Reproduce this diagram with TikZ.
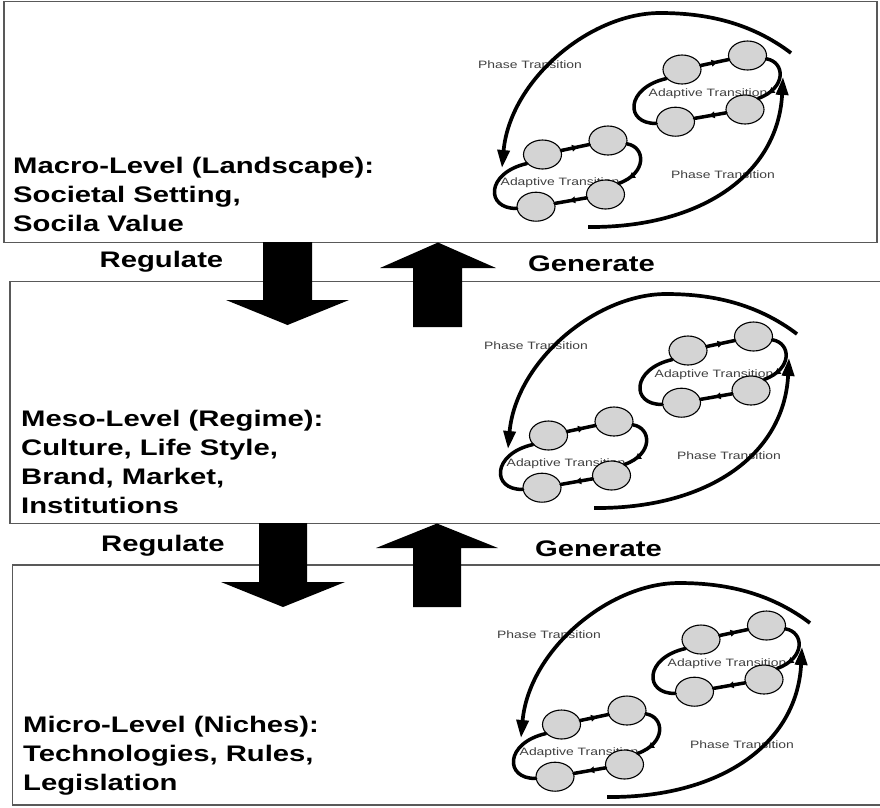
\documentclass[tikz,border=0pt]{standalone}
\usepackage{fontspec}
\setmainfont{Liberation Sans}[FakeStretch=1.3]
\usetikzlibrary{arrows.meta,decorations.markings,shapes.geometric}

\tikzset{
  levelbox/.style={draw=black!65, line width=1.5pt, inner sep=0pt},
  leveltext/.style={font=\fontsize{22.5}{29}\selectfont\bfseries, anchor=base west, inner sep=0pt},
  flowlabel/.style={font=\fontsize{22.5}{27}\selectfont\bfseries, anchor=base, inner sep=0pt},
  blockarrow/.style={fill=black},
  state/.style={ellipse, draw=black, fill=black!17, line width=1.1pt,
    minimum width=38pt, minimum height=29pt, inner sep=0pt},
  translabel/.style={font=\fontsize{10.7}{12}\selectfont, text=black!75, anchor=base, inner sep=0pt},
  loopline/.style={line width=3.5pt, line cap=round},
  phasearc/.style={line width=3.7pt, -{Triangle[length=18pt,width=12pt]}},
  midarrow/.style={postaction={decorate}, decoration={markings,
    mark=at position #1 with {\arrow{Triangle[length=6pt,width=6.5pt]}}}},
}

% four states joined in a closed adaptive loop
\newcommand{\adaptloop}[2]{%
  \begin{scope}[shift={#2}]
    \node[state] (#1a) at (682,69.5) {};
    \node[state] (#1b) at (747.5,55.5) {};
    \node[state] (#1c) at (745,109.5) {};
    \node[state] (#1d) at (675.5,121.7) {};
    \draw[loopline, midarrow=.6] (#1a) -- (#1b);
    \draw[loopline, midarrow=.8] (#1b.-10) .. controls (785,62) and (787,88) .. (#1c.40);
    \draw[loopline, midarrow=.55] (#1c) -- (#1d);
    \draw[loopline] (#1d.185) .. controls (625,124) and (625,88) .. (#1a.210);
  \end{scope}}

% two adaptive loops inside a broken phase-transition ellipse
\newcommand{\transcycle}[2]{%
  \begin{scope}[shift={#2}]
    \node[translabel] (#1pa) at (530,68) {Phase Transition};
    \node[translabel] (#1pb) at (723,178.5) {Phase Transition};
    \node[translabel] (#1ta) at (708,96.7) {Adaptive Transition};
    \node[translabel] (#1tb) at (560,185) {Adaptive Transition};
    \adaptloop{#1u}{(0,0)}
    \adaptloop{#1l}{(-139.5,85)}
    \draw[phasearc] (791,53) .. controls (750,22) and (705,13) .. (660,13)
      .. controls (590,13) and (510,80) .. (502,168);
    \draw[phasearc] (588,227) .. controls (700,228) and (778,175) .. (783,77);
  \end{scope}}

\begin{document}
\begin{tikzpicture}[x=1pt, y=-1pt]
\useasboundingbox (0,0) rectangle (880,807);
\clip (0,0) rectangle (880,807);

% level frames
\node[levelbox, minimum width=873pt, minimum height=240.8pt] (macro) at (440.5,122.1) {};
\node[levelbox, minimum width=880pt, minimum height=241.8pt] (meso) at (450,402.4) {};
\node[levelbox, minimum width=877.3pt, minimum height=240pt] (micro) at (451.35,685) {};

% level descriptions
\node[leveltext] (macrotext) at (13,173) {\begin{tabular}[t]{@{}l@{}}Macro-Level (Landscape):\\Societal Setting,\\Socila Value\end{tabular}};
\node[leveltext] (mesotext) at (21,426.7) {\begin{tabular}[t]{@{}l@{}}Meso-Level (Regime):\\Culture, Life Style,\\Brand, Market,\\Institutions\end{tabular}};
\node[leveltext] (microtext) at (23,732.7) {\begin{tabular}[t]{@{}l@{}}Micro-Level (Niches):\\Technologies, Rules,\\Legislation\end{tabular}};

% transition diagrams
\transcycle{top}{(0,0)}
\transcycle{mid}{(6,281)}
\transcycle{bot}{(19,570)}

% regulate / generate block arrows between the levels
\fill[blockarrow] (263,242) -- (312,242) -- (312,300) -- (349,300) -- (287.5,325)
  -- (226,300) -- (263,300) -- cycle;
\fill[blockarrow] (438,242.5) -- (496,268) -- (462,268) -- (462,327) -- (413,327)
  -- (413,268) -- (380,268) -- cycle;
\fill[blockarrow] (259,523) -- (307,523) -- (307,582) -- (345,582) -- (283,607)
  -- (221,582) -- (259,582) -- cycle;
\fill[blockarrow] (437,523.5) -- (498,548) -- (461,548) -- (461,607) -- (413,607)
  -- (413,548) -- (376,548) -- cycle;

\node[flowlabel] (reg1) at (161.5,267.3) {Regulate};
\node[flowlabel] (gen1) at (591.5,271) {Generate};
\node[flowlabel] (reg2) at (163,551.7) {Regulate};
\node[flowlabel] (gen2) at (598.5,556) {Generate};
\end{tikzpicture}
\end{document}
